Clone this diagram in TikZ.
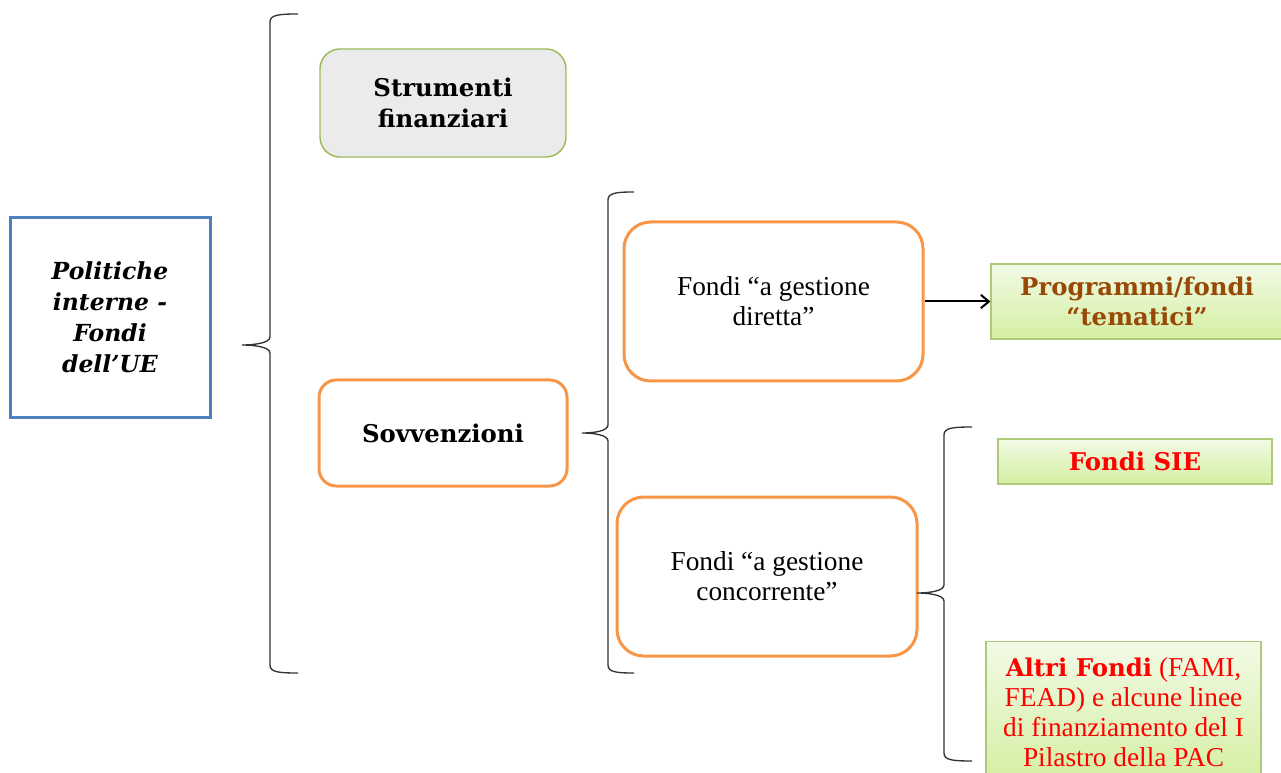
\documentclass[tikz,border=0pt]{standalone}
\usepackage{fontspec}
\setmainfont{Liberation Serif}
\newfontfamily\geo{DejaVu Serif}
\usetikzlibrary{positioning,arrows.meta}

\definecolor{bordoblu}{HTML}{4F81BD}
\definecolor{bordoarancio}{HTML}{F79646}
\definecolor{bordoverde}{HTML}{9BBB59}
\definecolor{verdechiaro}{HTML}{F2FAE6}
\definecolor{verdescuro}{HTML}{D4EFA2}
\definecolor{marrone}{HTML}{984807}
\definecolor{rosso}{HTML}{FF0000}

% parentesi graffa: x linea, y alto, y punta, y basso, x punta, x code
\newcommand{\graffa}[6]{%
  \draw[line width=1pt,black!80] (#6,#2) .. controls (#1+8,#2) and (#1,#2+1) .. (#1,#2+8)
    -- (#1,#3-8) .. controls (#1,#3-2) and (#5+12,#3) .. (#5,#3)
    .. controls (#5+12,#3) and (#1,#3+2) .. (#1,#3+8)
    -- (#1,#4-8) .. controls (#1,#4-1) and (#1+8,#4) .. (#6,#4);}

\tikzset{
  boldtxt/.style={font=\geo\bfseries\fontsize{18.3}{23}\selectfont, align=center},
  normtxt/.style={font=\fontsize{20.5}{22.5}\selectfont, align=center},
  arancio/.style={draw=bordoarancio, line width=2.25pt, rounded corners=15pt},
  verde/.style={draw=bordoverde!80, line width=0.9pt, top color=verdechiaro, bottom color=verdescuro}
}

\begin{document}
\begin{tikzpicture}[x=0.75pt,y=-0.75pt]
    \useasboundingbox (0,0) rectangle (1281,773);
    \node[draw=bordoblu, line width=2.25pt, minimum width=150pt, minimum height=149.25pt,
          font=\geo\bfseries\itshape\fontsize{17.6}{23.25}\selectfont, align=center] (politiche) at (110,317.5)
          {Politiche\\interne -\\Fondi\\dell’UE};
    \node[draw=bordoverde, line width=1.1pt, fill=black!8, rounded corners=15pt,
          minimum width=184.5pt, minimum height=81pt, boldtxt] (strumenti) at (443,103) {Strumenti\\finanziari};
    \node[arancio, rounded corners=13pt, minimum width=186pt, minimum height=79.5pt, boldtxt] (sovvenzioni) at (443,433) {Sovvenzioni};
    \node[arancio, rounded corners=20pt, minimum width=224.25pt, minimum height=119.25pt, normtxt] (diretta) at (773.5,301.5) {Fondi “a gestione\\diretta”};
    \node[arancio, rounded corners=20pt, minimum width=225pt, minimum height=119.25pt, normtxt] (concorrente) at (767,576.5) {Fondi “a gestione\\concorrente”};
    \node[verde, minimum width=219pt, minimum height=56.25pt, boldtxt, text=marrone] (programmi) at (1137,301.5) {Programmi/fondi\\“tematici”};
    \node[verde, minimum width=205.5pt, minimum height=33.75pt, boldtxt, text=rosso] (sie) at (1135,461.5) {Fondi SIE};
    \node[verde, minimum width=206.25pt, minimum height=106pt, normtxt, text=rosso, anchor=north] (altri) at (1123.5,641)
          {{\geo\bfseries\fontsize{18.3}{22.5}\selectfont Altri Fondi} (FAMI,\\FEAD) e alcune linee\\di finanziamento del I\\Pilastro della PAC};
    \path[draw,line width=1.5pt,-{Straight Barb[length=6pt,width=10pt]}] (diretta.east) -- (programmi.west);
    \graffa{270}{14}{345}{673}{242}{298}
    \graffa{608}{192}{433}{673}{582}{634}
    \graffa{944}{427}{593}{761}{917}{972}
\end{tikzpicture}
\end{document}
